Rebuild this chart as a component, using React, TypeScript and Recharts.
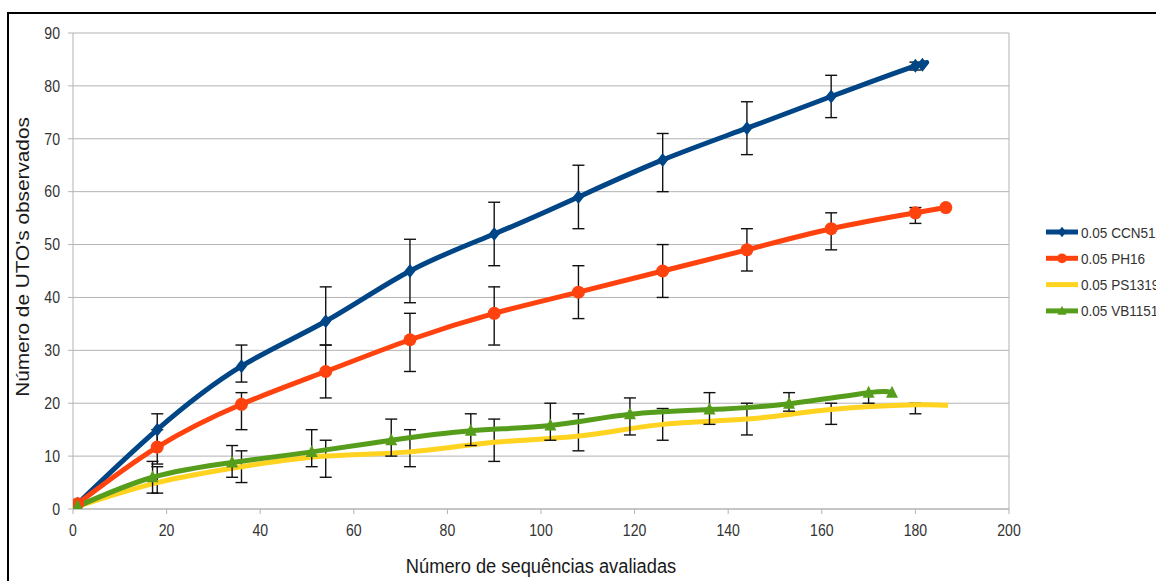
import React from "react";
import { LineChart, Line, XAxis, YAxis, CartesianGrid, ErrorBar, ReferenceLine } from "recharts";

const xTicks = [0, 20, 40, 60, 80, 100, 120, 140, 160, 180, 200];
const yTicks = [0, 10, 20, 30, 40, 50, 60, 70, 80, 90];

// 0.05 CCN51
const ccnX = [1, 18, 36, 54, 72, 90, 108, 126, 144, 162, 180, 181.5];
const ccnY = [1, 15, 27, 35.5, 45, 52, 59, 66, 72, 78, 83.8, 84];
const ccnLo = [null, 12, 24, 31, 39, 46, 53, 60, 67, 74, 83, null];
const ccnHi = [null, 18, 31, 42, 51, 58, 65, 71, 77, 82, 84.5, null];

// 0.05 PH16
const phX = [1, 18, 36, 54, 72, 90, 108, 126, 144, 162, 180, 186.5];
const phY = [1, 11.7, 19.8, 26, 32, 37, 41, 45, 49, 53, 56, 57];
const phLo = [null, 8.5, 15, 21, 26, 31, 36, 40, 45, 49, 54, null];
const phHi = [null, 15, 22, 31, 37, 42, 46, 50, 53, 56, 57, null];

// 0.05 PS1319
const psX = [1, 18, 36, 54, 72, 90, 108, 126, 144, 162, 180, 187];
const psY = [0.5, 5, 8, 10, 10.8, 12.6, 13.8, 16, 17, 18.8, 19.7, 19.6];
const psLo = [null, 3, 5, 6, 8, 9, 11, 13, 14, 16, 18, null];
const psHi = [null, 8, 11, 13, 15, 17, 18, 19, 20, 20, 20, null];

// 0.05 VB1151
const vbX = [1, 17, 34, 51, 68, 85, 102, 119, 136, 153, 170, 175];
const vbY = [0.5, 6, 8.8, 10.8, 13, 14.8, 15.8, 17.9, 18.8, 19.9, 22, 22];
const vbLo = [null, 3, 6, 8, 10, 12, 13, 14, 16, 18.5, 20, null];
const vbHi = [null, 9, 12, 15, 17, 18, 20, 21, 22, 22, 22, null];

const FONT = "'Liberation Sans', Arial, sans-serif";
const SQUEEZE = 0.88; // the picture is a bit narrow horizontally

type Shape = "diamond" | "circle" | "triangle" | "none";

const series = [
  { name: "0.05 CCN51", color: "#004586", shape: "diamond" as Shape, xs: ccnX, ys: ccnY, lo: ccnLo, hi: ccnHi },
  { name: "0.05 PH16", color: "#ff420e", shape: "circle" as Shape, xs: phX, ys: phY, lo: phLo, hi: phHi },
  { name: "0.05 PS1319", color: "#ffd320", shape: "none" as Shape, xs: psX, ys: psY, lo: psLo, hi: psHi },
  { name: "0.05 VB1151", color: "#579d1c", shape: "triangle" as Shape, xs: vbX, ys: vbY, lo: vbLo, hi: vbHi },
];

function buildRows(s: typeof series[number]) {
  return s.xs.map((x, i) => ({
    x,
    y: s.ys[i],
    err: s.lo[i] == null ? undefined : [s.ys[i] - (s.lo[i] as number), (s.hi[i] as number) - s.ys[i]],
  }));
}

function Marker({ cx, cy, shape, color }: { cx: number; cy: number; shape: Shape; color: string }) {
  if (shape === "diamond")
    return <path d={`M${cx},${cy - 7}L${cx + 5.5},${cy}L${cx},${cy + 7}L${cx - 5.5},${cy}Z`} fill={color} />;
  if (shape === "circle") return <circle cx={cx} cy={cy} r={6.5} fill={color} />;
  if (shape === "triangle")
    return <path d={`M${cx},${cy - 7}L${cx + 6},${cy + 5}L${cx - 6},${cy + 5}Z`} fill={color} />;
  return <g />;
}

const YTick = (props: any) => (
  <text
    transform={`translate(${props.x},${props.y}) scale(${SQUEEZE},1)`}
    textAnchor="end"
    dy="0.36em"
    fontSize={16}
    fill="#333"
    fontFamily={FONT}
  >
    {props.payload.value}
  </text>
);

const XTick = (props: any) => (
  <text
    transform={`translate(${props.x},${props.y}) scale(${SQUEEZE},1)`}
    textAnchor="middle"
    dy={12}
    fontSize={16}
    fill="#333"
    fontFamily={FONT}
  >
    {props.payload.value}
  </text>
);

const XTitle = (props: any) => {
  const vb = props.viewBox;
  return (
    <text
      transform={`translate(${vb.x + vb.width / 2},${vb.y + 64}) scale(${SQUEEZE},1)`}
      textAnchor="middle"
      fontSize={20.8}
      fill="#1a1a1a"
      fontFamily={FONT}
    >
      Número de sequências avaliadas
    </text>
  );
};

const YTitle = (props: any) => {
  const vb = props.viewBox;
  return (
    <text
      transform={`translate(${vb.x + 16},${vb.y + vb.height / 2 - 14}) scale(${SQUEEZE},1) rotate(-90)`}
      textAnchor="middle"
      fontSize={20.8}
      fill="#1a1a1a"
      fontFamily={FONT}
    >
      Número de UTO's observados
    </text>
  );
};

function Legend() {
  return (
    <svg width={116} height={120} style={{ position: "absolute", left: 1040, top: 212 }}>
      {series.map((s, i) => {
        const y = 20 + i * 26.3;
        return (
          <g key={s.name}>
            <line x1={6} x2={38} y1={y} y2={y} stroke={s.color} strokeWidth={5} />
            <g transform={`translate(22,${y}) scale(0.75)`}>
              <Marker cx={0} cy={0} shape={s.shape} color={s.color} />
            </g>
            <text
              transform={`translate(41,${y}) scale(${SQUEEZE},1)`}
              dy="0.36em"
              fontSize={15.4}
              fill="#333"
              fontFamily={FONT}
            >
              {s.name}
            </text>
          </g>
        );
      })}
    </svg>
  );
}

export default function App() {
  return (
    <div
      style={{
        position: "absolute",
        left: 0,
        top: 0,
        width: 1156,
        height: 581,
        overflow: "hidden",
        background: "#fff",
      }}
    >
      <div
        style={{
          position: "absolute",
          left: 7,
          top: 12,
          width: 1300,
          height: 800,
          border: "2px solid #000",
          boxSizing: "border-box",
        }}
      />
      <div style={{ position: "absolute", left: 0, top: 0 }}>
        <LineChart width={1156} height={581} margin={{ top: 33, right: 147, left: 13, bottom: 42 }}>
          <CartesianGrid vertical={false} stroke="#b3b3b3" />
          <XAxis
            type="number"
            dataKey="x"
            domain={[0, 200]}
            ticks={xTicks}
            allowDataOverflow
            height={30}
            tickSize={5}
            tickMargin={10}
            stroke="#b3b3b3"
            tick={<XTick />}
            label={<XTitle />}
          />
          <YAxis
            type="number"
            domain={[0, 90]}
            ticks={yTicks}
            allowDataOverflow
            width={60}
            tickSize={5}
            tickMargin={8}
            stroke="#b3b3b3"
            tick={<YTick />}
            label={<YTitle />}
          />
          <ReferenceLine x={200} stroke="#b3b3b3" />
          {series.map((s) => (
            <Line
              key={s.name}
              data={buildRows(s)}
              dataKey="y"
              name={s.name}
              type="natural"
              stroke={s.color}
              strokeWidth={5}
              isAnimationActive={false}
              activeDot={false}
              dot={
                s.shape === "none"
                  ? false
                  : (p: any) => (
                      <Marker key={`${s.name}-${p.index}`} cx={p.cx} cy={p.cy} shape={s.shape} color={s.color} />
                    )
              }
            >
              <ErrorBar dataKey="err" direction="y" width={6} stroke="#111" strokeWidth={1.4} />
            </Line>
          ))}
        </LineChart>
      </div>
      <Legend />
    </div>
  );
}
